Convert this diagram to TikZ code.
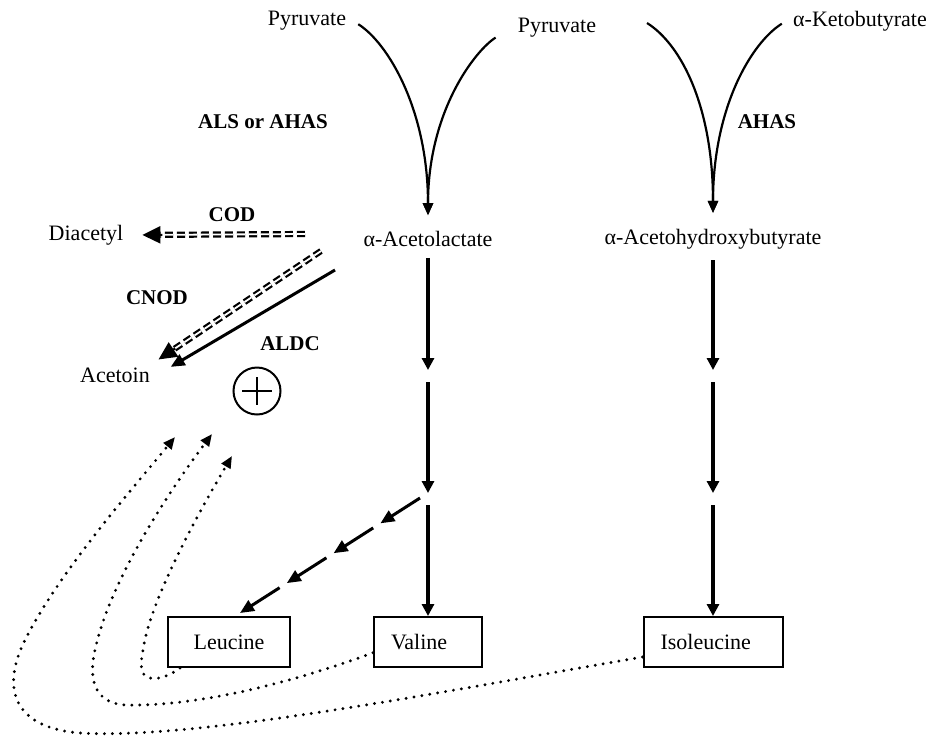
\documentclass[tikz,border=0pt]{standalone}
\usepackage{fontspec}
\setmainfont{Liberation Serif}
\usetikzlibrary{arrows.meta,calc}

\begin{document}
\begin{tikzpicture}[x=0.5pt,y=-0.5pt,
    font=\fontsize{11}{13}\selectfont,
    enz/.style={font=\fontsize{10.5}{12}\selectfont\bfseries},
    ycurve/.style={line width=1.1pt,-{Triangle[length=6pt,width=5pt]}},
    flow/.style={line width=1.6pt,-{Triangle[length=6pt,width=6pt]}},
    dbl/.style={double,double distance=0.9pt,line width=1.1pt,dash pattern=on 4pt off 2pt},
    dbltip/.style={line width=1pt,-{Triangle[length=9pt,width=8.5pt]}},
    solidarr/.style={line width=1.5pt,-{Triangle[length=7pt,width=6pt]}},
    dotarr/.style={line width=1.6pt,line cap=round,dash pattern=on 0pt off 4pt,
                   -{Triangle[length=6pt,width=5pt]}},
    box/.style={draw,line width=1pt,minimum height=25pt,inner xsep=8.5pt,align=left}]
  \useasboundingbox (0,0) rectangle (928,736);

  % substrates and products
  \node (pyrA) at (307,21) {Pyruvate};
  \node (pyrB) at (557,28) {Pyruvate};
  \node (keto) at (860,21) {α-Ketobutyrate};
  \node (acl) at (428,239) {α-Acetolactate};
  \node (ahb) at (713,239) {α-Acetohydroxybutyrate};
  \node (diac) at (86,235) {Diacetyl};
  \node (acet) at (115,375) {Acetoin};

  % enzymes
  \node[enz] at (263,122) {ALS or AHAS};
  \node[enz] at (767,122) {AHAS};
  \node[enz] at (232,215) {COD};
  \node[enz] at (157,298) {CNOD};
  \node[enz] at (290,344) {ALDC};

  % end products
  \node[box,text width=44pt,align=center] (leu) at (229,642) {Leucine};
  \node[box,text width=37pt] (val) at (428,642) {Valine};
  \node[box,text width=52.5pt] (ile) at (713,642) {Isoleucine};

  % condensation
  \coordinate (ahA) at (647,23);
  \draw[ycurve,shorten <=3pt,shorten >=4.5pt] (pyrA.east) .. controls +(35,22) and +(0,-114) .. (acl.north);
  \draw[ycurve,shorten <=9pt,shorten >=4.5pt] (pyrB.west) .. controls +(-35,22) and +(0,-114) .. (acl.north);
  \draw[ycurve,shorten >=4.5pt] (ahA) .. controls +(35,22) and +(0,-114) .. (ahb.north);
  \draw[ycurve,shorten <=2.5pt,shorten >=4.5pt] (keto.west) .. controls +(-35,22) and +(0,-114) .. (ahb.north);

  % valine branch
  \coordinate (m1) at (428,376);
  \coordinate (m2) at (428,498);
  \draw[flow,shorten <=2pt,shorten >=3pt] (acl.south) -- (m1);
  \draw[flow,shorten <=3pt,shorten >=2.5pt] (m1) -- (m2);
  \draw[flow,shorten <=3.5pt] (m2) -- (val.north);

  % isoleucine branch
  \coordinate (n1) at (713,376);
  \coordinate (n2) at (713,498);
  \draw[flow,shorten <=2pt,shorten >=3pt] (ahb.south) -- (n1);
  \draw[flow,shorten <=3pt,shorten >=2.5pt] (n1) -- (n2);
  \draw[flow,shorten <=3.5pt] (n2) -- (ile.north);

  % leucine
  \coordinate (lb) at (420,498);
  \coordinate (le) at ($(leu.north)+(11,-3)$);
  \foreach \a/\b in {0/.22,.26/.48,.52/.74,.78/1}
    \draw[solidarr] ($(lb)!\a!(le)$) -- ($(lb)!\b!(le)$);

  % side reactions
  \coordinate (cod) at (305,234);
  \coordinate (cnod) at (321,251);
  \coordinate (aldc) at (335,270);
  \draw[dbl,shorten >=15pt] (cod) -- (diac.east);
  \draw[dbltip,shorten >=6pt] ($(diac.east)!16pt!(cod)$) -- (diac.east);
  \draw[dbl,shorten >=10pt] (cnod) -- (acet.north east);
  \draw[dbltip,shorten >=1pt] ($(acet.north east)!11pt!(cnod)$) -- (acet.north east);
  \draw[solidarr,shorten >=8pt] (aldc) -- (acet.east);

  \node[circle,draw,line width=1pt,minimum size=23.5pt,inner sep=0pt] (plus) at (257,391) {};
  \draw[line width=1pt] ($(plus.center)+(-15,0)$) -- ($(plus.center)+(15,0)$);
  \draw[line width=1pt] ($(plus.center)+(0,-14)$) -- ($(plus.center)+(0,14)$);

  % feedback
  \coordinate (fb1) at (175,437);
  \coordinate (fb2) at (212,434);
  \coordinate (fb3) at (232,456);
  \draw[dotarr] (ile.192) .. controls (450,690) and (200,740) .. (80,733)
    .. controls (15,728) and (0,690) .. (25,640)
    .. controls (60,570) and (140,480) .. (fb1);
  \draw[dotarr] (val.191) .. controls (300,680) and (200,707) .. (125,705)
    .. controls (95,703) and (88,680) .. (95,650)
    .. controls (110,580) and (170,490) .. (fb2);
  \draw[dotarr] (leu.208) .. controls (170,675) and (160,680) .. (150,678)
    .. controls (140,676) and (140,665) .. (143,650)
    .. controls (150,600) and (200,510) .. (fb3);
\end{tikzpicture}
\end{document}
